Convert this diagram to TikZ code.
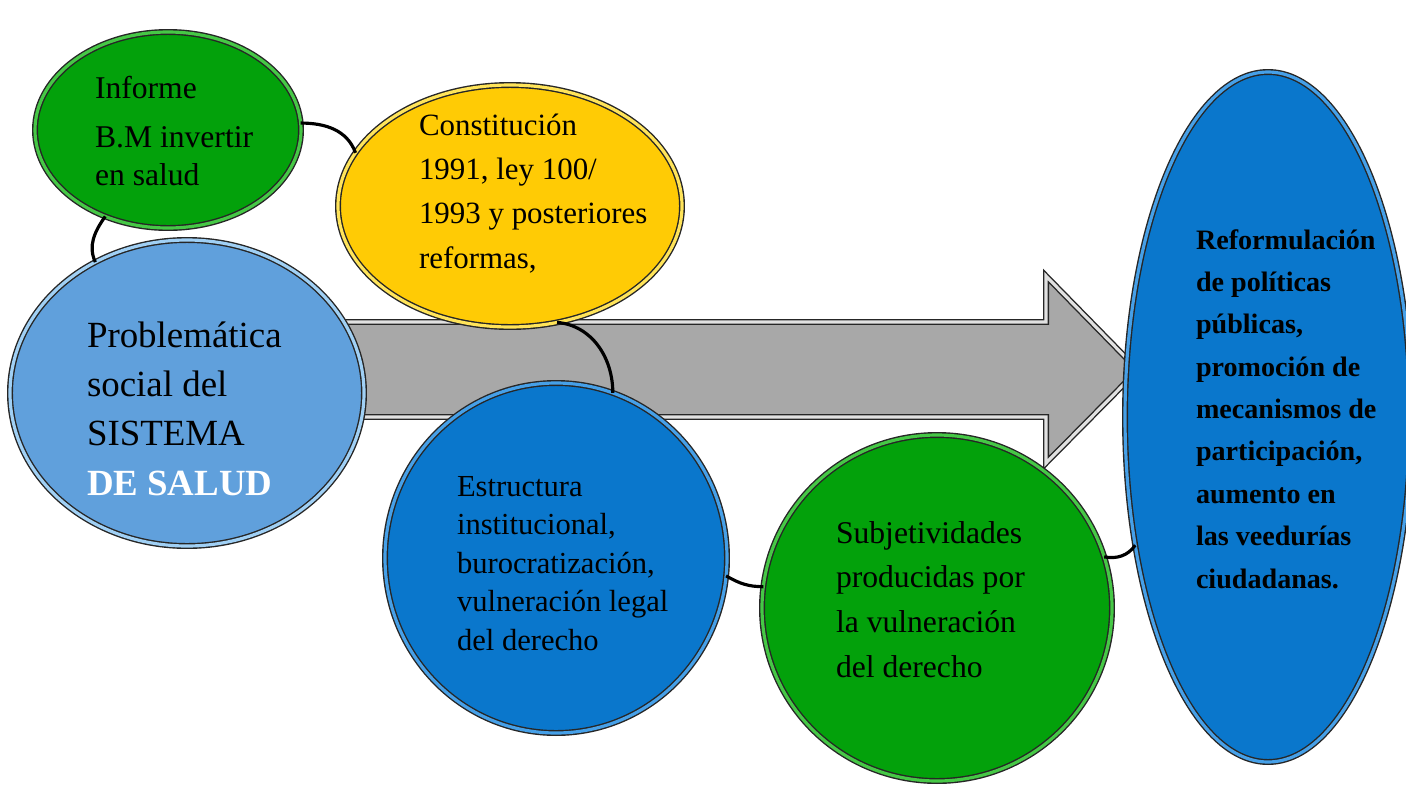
\documentclass[tikz,border=0pt]{standalone}
\usepackage{fontspec}
\setmainfont{Liberation Serif}
\usetikzlibrary{shapes.geometric}

\definecolor{verde}{RGB}{3,161,11}
\definecolor{verdeclaro}{RGB}{70,200,70}
\definecolor{amarillo}{RGB}{255,203,5}
\definecolor{amarilloclaro}{RGB}{255,228,90}
\definecolor{celeste}{RGB}{96,160,220}
\definecolor{celesteclaro}{RGB}{160,208,245}
\definecolor{azul}{RGB}{10,119,204}
\definecolor{azulclaro}{RGB}{70,160,232}
\definecolor{gris}{RGB}{168,168,168}
\definecolor{grisclaro}{RGB}{225,225,225}

\newcommand{\ux}{0.02cm}
\newcommand{\tam}[2]{\fontsize{#1}{#2}\selectfont}

\begin{document}
\begin{tikzpicture}[x=0.02cm,y=-0.02cm]
\tikzstyle{every node}+=[inner sep=0pt,outer sep=0pt]
\tikzstyle{burbuja}=[ellipse,draw=black!85,line width=0.8pt,double distance=1.8pt]
\tikzstyle{texto}=[align=left,anchor=base west]
\tikzstyle{enlace}=[line width=1.8pt,black]
\useasboundingbox (0,0) rectangle (1406,785);
\draw [fill=gris,draw=black!85,line width=0.8pt,double=grisclaro,double distance=1.8pt]
  (300,322) -- (1046,322) -- (1046,276) -- (1138,370) -- (1046,463) -- (1046,417) -- (300,417) -- cycle;
\node [burbuja,fill=verde,double=verdeclaro,minimum width=266*\ux,minimum height=196*\ux] (inf) at (168,130) {};
\node [burbuja,fill=amarillo,double=amarilloclaro,minimum width=344*\ux,minimum height=242*\ux] (con) at (510,206) {};
\node [burbuja,fill=celeste,double=celesteclaro,minimum width=354*\ux,minimum height=306*\ux] (pb) at (187,393) {};
\node [burbuja,fill=azul,double=azulclaro,minimum width=342*\ux,minimum height=350*\ux] (estr) at (556,558) {};
\node [burbuja,fill=verde,double=verdeclaro,minimum width=350*\ux,minimum height=346*\ux] (subj) at (937,608) {};
\node [burbuja,fill=azul,double=azulclaro,minimum width=286*\ux,minimum height=690*\ux] (ref) at (1268,417) {};
\node [texto,font=\tam{18pt}{21.6pt}] (inf-t) at (95,185) {Informe\\[6.3pt]B.M invertir\\en salud};
\node [texto,font=\tam{17.6pt}{25.2pt}] (con-t) at (419,268) {Constitución\\1991, ley 100/\\1993 y posteriores\\reformas,};
\node [texto,font=\tam{21pt}{27.9pt}] (pb-t) at (87,495) {Problemática\\social del\\SISTEMA\\{\bfseries\color{white}DE SALUD}};
\node [texto,font=\tam{17.4pt}{21.9pt}] (estr-t) at (457,650) {Estructura\\institucional,\\burocratización,\\vulneración legal\\del derecho};
\node [texto,font=\tam{18pt}{25.4pt}] (subj-t) at (836,677) {Subjetividades\\producidas por\\la vulneración\\del derecho};
\node [texto,font=\tam{16pt}{24.1pt}\bfseries] (ref-t) at (1196,588) {Reformulación\\de políticas\\públicas,\\promoción de\\mecanismos de\\participación,\\aumento en\\las veedurías\\ciudadanas.};
\draw [enlace] (inf.3) to[out=0,in=110] (con.161);
\draw [enlace] (inf.234) to[out=235,in=115] (pb.125);
\draw [enlace] (con.292) to[out=-5,in=90] (estr.71);
\draw [enlace] (estr.-6) to[out=-30,in=180] (subj.173);
\draw [enlace] (subj.17) to[out=-10,in=235] (ref.224);
\end{tikzpicture}
\end{document}
